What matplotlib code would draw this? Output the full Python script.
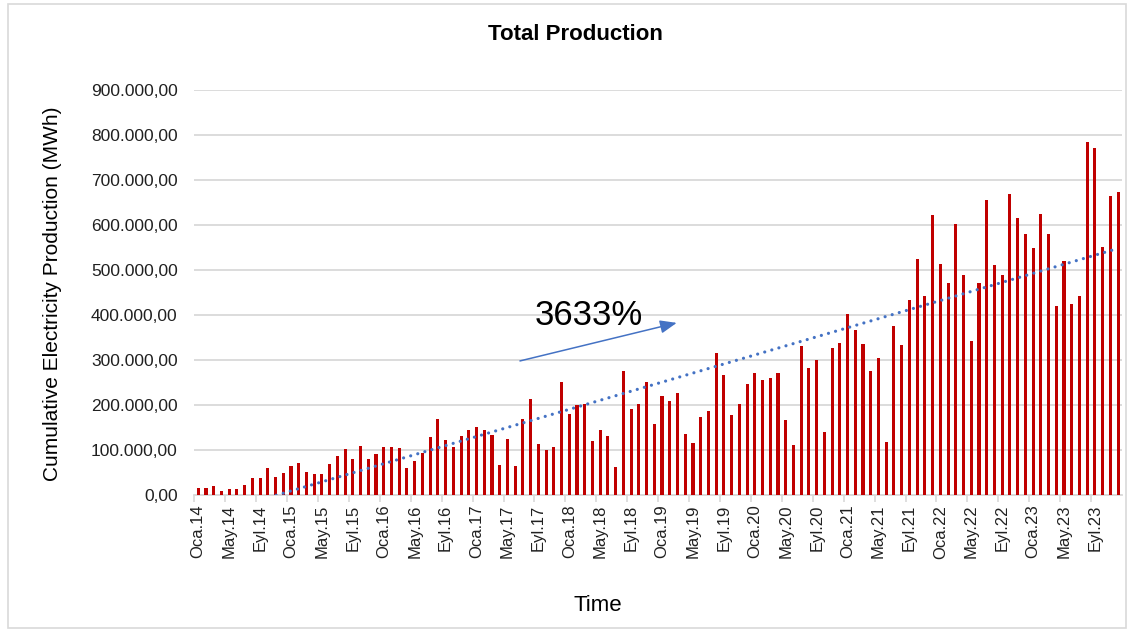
import matplotlib
matplotlib.use("Agg")
import matplotlib.pyplot as plt
from matplotlib.patches import Rectangle
from matplotlib.ticker import FuncFormatter, FixedLocator
import numpy as np

# Monthly electricity production (MWh), Jan 2014 - Dec 2023
production = [
    15500, 15500, 20000, 9000, 13000, 13000, 21500, 37000, 37000, 60000,
    41000, 49000, 64000, 70000, 51000, 47000, 47000, 68000, 87000, 102000,
    80000, 108000, 80000, 91000, 106000, 106000, 104000, 59000, 76000, 93000,
    129000, 169000, 122000, 107000, 131000, 144000, 152000, 144000, 133000, 66000,
    124000, 64000, 169000, 213000, 113000, 101000, 106000, 251000, 180000, 200000,
    202000, 119000, 144000, 131000, 62000, 276000, 192000, 202000, 251000, 157000,
    221000, 209000, 226000, 136000, 115000, 173000, 187000, 316000, 267000, 178000,
    202000, 247000, 270000, 255000, 261000, 270000, 167000, 110000, 330000, 282000,
    301000, 141000, 327000, 337000, 402000, 367000, 336000, 276000, 304000, 118000,
    376000, 333000, 433000, 524000, 442000, 623000, 513000, 471000, 602000, 488000,
    342000, 471000, 655000, 511000, 488000, 669000, 616000, 581000, 549000, 624000,
    579000, 421000, 519000, 424000, 442000, 784000, 770000, 551000, 664000, 673000,
]

month_names = ["Oca", "Şub", "Mar", "Nis", "May", "Haz",
               "Tem", "Ağu", "Eyl", "Eki", "Kas", "Ara"]
years = list(range(2014, 2024))
categories = [f"{m}.{y % 100:02d}" for y in years for m in month_names]

y_ticks = [0, 100000, 200000, 300000, 400000, 500000, 600000, 700000, 800000, 900000]
growth_label = "3633%"

plt.rcParams["font.family"] = ["Liberation Sans", "DejaVu Sans"]

fig = plt.figure(figsize=(11.34, 6.32), dpi=100)
ax = fig.add_axes([0.1714, 0.2168, 0.818, 0.6408])

x = np.arange(len(production))
ax.bar(x, production, width=0.4, color="#C00000", zorder=3)

# Linear trend line over the monthly series
coef = np.polyfit(x, production, 1)
trend = np.polyval(coef, x)
ax.plot(x, trend, linestyle=(0, (0.01, 2.3)), color="#4472C4", lw=2.3,
        dash_capstyle="round", solid_capstyle="round", zorder=4)

ax.set_xlim(-0.5, len(production) - 0.5)
ax.set_ylim(0, 900000)
ax.set_yticks(y_ticks)


def tr_format(v, pos):
    s = f"{v:,.2f}"
    return s.replace(",", "X").replace(".", ",").replace("X", ".")


ax.yaxis.set_major_formatter(FuncFormatter(tr_format))
ax.grid(axis="y", color="#D9D9D9", lw=1.3, zorder=0)
ax.set_axisbelow(True)

label_idx = list(range(0, len(production), 4))
ax.set_xticks(label_idx)
ax.set_xticklabels([categories[i] for i in label_idx], rotation=90)
ax.xaxis.set_minor_locator(FixedLocator([i - 0.5 for i in label_idx]))
ax.tick_params(axis="x", which="major", length=0, pad=7, labelsize=12,
               labelcolor="#202020")
ax.tick_params(axis="x", which="minor", length=5, color="#D9D9D9", width=1.2)
ax.tick_params(axis="y", length=0, pad=12, labelsize=12.5, labelcolor="#202020")

for side in ["top", "right", "left"]:
    ax.spines[side].set_visible(False)
ax.spines["bottom"].set_color("#D9D9D9")
ax.spines["bottom"].set_linewidth(1.3)

fig.text(0.507, 0.946, "Total Production", fontsize=16, fontweight="bold",
         ha="center", va="center")
fig.text(0.046, 0.535, "Cumulative Electricity Production (MWh)", fontsize=15,
         rotation=90, ha="center", va="center")
fig.text(0.527, 0.042, "Time", fontsize=16, ha="center", va="center")

ax.annotate("", xy=(0.520, 0.425), xytext=(0.351, 0.331),
            xycoords="axes fraction", textcoords="axes fraction",
            arrowprops=dict(arrowstyle="-|>,head_length=1.0,head_width=0.4",
                            color="#4472C4", lw=1.1, shrinkA=0, shrinkB=0),
            zorder=5)
ax.text(0.4254, 0.444, growth_label, transform=ax.transAxes, fontsize=25,
        ha="center", va="center", zorder=5)

fig.patches.append(Rectangle((8 / 1134, 4 / 632), 1118 / 1134, 624 / 632,
                             transform=fig.transFigure, fill=False,
                             edgecolor="#D9D9D9", lw=1.2))

fig.savefig("out.png", dpi=100)
